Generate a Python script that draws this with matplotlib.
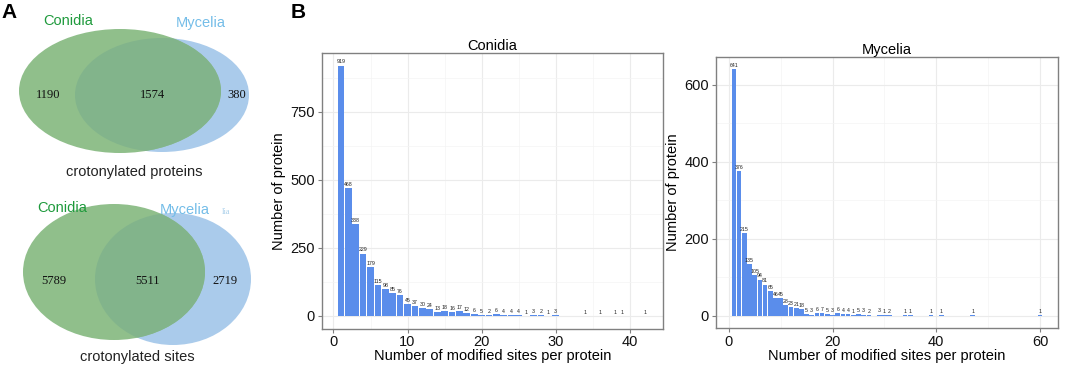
import matplotlib
matplotlib.use("Agg")
import matplotlib.pyplot as plt
from matplotlib.patches import Ellipse
from matplotlib.ticker import MultipleLocator

plt.rcParams['font.family'] = ['Liberation Sans', 'DejaVu Sans']

# ---------------- data ----------------
venn_protein_counts = [1190, 1574, 380]   # Conidia only, both, Mycelia only
venn_site_counts = [5789, 5511, 2719]
venn_titles = ["crotonylated proteins", "crotonylated sites"]
set_names = ["Conidia", "Mycelia"]

conidia_sites = list(range(1, 31)) + [34, 36, 38, 39, 42]
conidia_counts = [919, 468, 338, 229, 179, 115, 98, 85, 76, 45,
                  37, 30, 24, 13, 18, 16, 17, 12, 6, 5,
                  2, 6, 4, 4, 4, 1, 3, 2, 1, 3,
                  1, 1, 1, 1, 1]

mycelia_sites = list(range(1, 28)) + [29, 30, 31, 34, 35, 39, 41, 47, 60]
mycelia_counts = [641, 376, 215, 135, 105, 94, 81, 65, 46, 45,
                  28, 23, 21, 18, 5, 3, 6, 7, 5, 3,
                  6, 4, 4, 1, 5, 3, 2,
                  3, 1, 2, 1, 1, 1, 1, 1, 1]

# ---------------- figure ----------------
W, H = 1065, 366
fig = plt.figure(figsize=(W / 100, H / 100), dpi=100)

GREEN_ONLY = '#90BF8B'
OVERLAP = '#82B48B'
BLUE_ONLY = '#AACBEB'
GREEN_TXT = '#1E9A3C'
BLUE_TXT = '#74BDE8'

axv = fig.add_axes([0, 0, 330 / W, 1])
axv.set_xlim(0, 330)
axv.set_ylim(366, 0)
axv.axis('off')


def venn(ax, gc, gw, gh, bc, bw, bh, counts, num_pos, title, title_pos,
         name_pos):
    blue = Ellipse(bc, 2 * bw, 2 * bh, facecolor=BLUE_ONLY, edgecolor='none')
    ax.add_patch(blue)
    green = Ellipse(gc, 2 * gw, 2 * gh, facecolor=GREEN_ONLY, edgecolor='none')
    ax.add_patch(green)
    ov = Ellipse(bc, 2 * bw, 2 * bh, facecolor=OVERLAP, edgecolor='none')
    ax.add_patch(ov)
    ov.set_clip_path(green)
    for c, p in zip(counts, num_pos):
        ax.text(p[0], p[1], str(c), ha='center', va='center', fontsize=9,
                family=['Liberation Serif', 'DejaVu Serif'], color='#111111')
    ax.text(title_pos[0], title_pos[1], title, ha='center', va='center',
            fontsize=10.5, color='#222222')
    ax.text(name_pos[0][0], name_pos[0][1], set_names[0], ha='center',
            va='center', fontsize=10.5, color=GREEN_TXT)
    ax.text(name_pos[1][0], name_pos[1][1], set_names[1], ha='center',
            va='center', fontsize=10.5, color=BLUE_TXT)


venn(axv, (120, 91), 101, 62, (162, 95), 87, 57, venn_protein_counts,
     [(48, 95), (152, 95), (237, 95)], venn_titles[0], (134, 172),
     [(68, 21), (201, 23)])
venn(axv, (114, 272), 91, 68, (173, 279), 78, 66, venn_site_counts,
     [(54, 281), (147, 281), (225, 281)], venn_titles[1], (137, 357),
     [(62, 208), (185, 210)])
axv.text(226, 212, "lia", ha='center', va='center', fontsize=6,
         family=['Liberation Serif', 'DejaVu Serif'], color='#A8CFEA')

fig.text(9 / W, 1 - 13 / H, "A", fontsize=15, fontweight='bold',
         ha='center', va='center')
fig.text(298 / W, 1 - 13 / H, "B", fontsize=15, fontweight='bold',
         ha='center', va='center')

BAR = '#5A8DEB'


def bar_panel(rect, xs, ys, title, ymaj, xlim, ylim):
    ax = fig.add_axes(rect)
    ax.bar(xs, ys, width=0.9, color=BAR, edgecolor='none', zorder=2)
    for x, y in zip(xs, ys):
        ax.text(x, y + (ylim[1] - ylim[0]) * 0.004, str(y), ha='center',
                va='bottom', fontsize=3.8, color='#222222', zorder=3)
    ax.set_xlim(*xlim)
    ax.set_ylim(*ylim)
    ax.xaxis.set_major_locator(MultipleLocator(20 if xlim[1] > 50 else 10))
    ax.xaxis.set_minor_locator(MultipleLocator(10 if xlim[1] > 50 else 5))
    ax.yaxis.set_major_locator(MultipleLocator(ymaj))
    ax.yaxis.set_minor_locator(MultipleLocator(ymaj / 2))
    ax.grid(which='major', color='#EBEBEB', lw=0.8, zorder=0)
    ax.grid(which='minor', color='#F4F4F4', lw=0.5, zorder=0)
    ax.set_axisbelow(True)
    for s in ax.spines.values():
        s.set_color('#808080')
        s.set_linewidth(1.0)
    ax.tick_params(which='major', length=3, color='#808080', labelsize=10.5,
                   labelcolor='#111111', pad=2)
    ax.tick_params(which='minor', length=0)
    ax.set_title(title, fontsize=10.5, pad=2)
    ax.set_xlabel("Number of modified sites per protein", fontsize=10.5,
                  labelpad=0)
    ax.set_ylabel("Number of protein", fontsize=10.5, labelpad=3)
    return ax


bar_panel([322 / W, 1 - 328.5 / H, (662.7 - 322) / W, (328.5 - 53) / H],
          conidia_sites, conidia_counts, "Conidia", 250,
          (-1.55, 44.45), (-46, 965))
bar_panel([716 / W, 1 - 328 / H, (1058 - 716) / W, (328 - 56.7) / H],
          mycelia_sites, mycelia_counts, "Mycelia", 200,
          (-2.45, 63.45), (-32, 673))

fig.savefig("out.png", dpi=100)
